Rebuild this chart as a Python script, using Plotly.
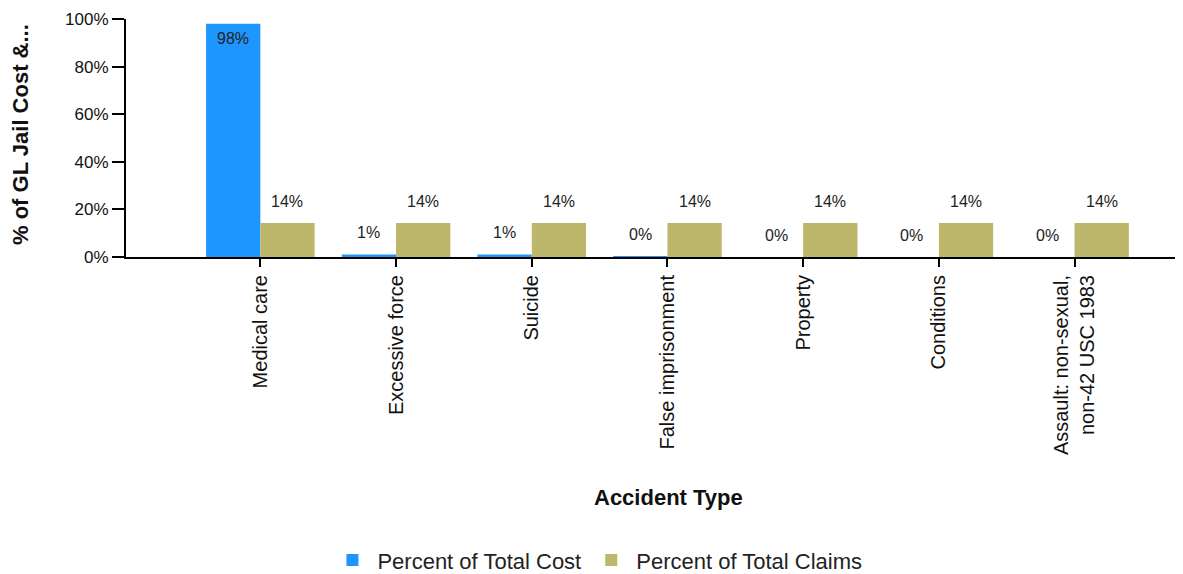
import plotly.graph_objects as go

categories = ["Medical care", "Excessive force", "Suicide", "False imprisonment",
              "Property", "Conditions", "Assault: non-sexual,<br>non-42 USC 1983"]
pct_cost = [98, 1, 1, 0.4, 0, 0, 0]
pct_claims = [14.29, 14.29, 14.29, 14.29, 14.29, 14.29, 14.29]
series_names = ["Percent of Total Cost", "Percent of Total Claims"]
y_ticks = [0, 20, 40, 60, 80, 100]

BLUE = "#1E96FF"
OLIVE = "#BDB76B"
FONT = "Liberation Sans, Arial, sans-serif"

fig = go.Figure()
fig.add_trace(go.Bar(x=categories, y=pct_cost, name=series_names[0],
                     marker=dict(color=BLUE, line=dict(width=0))))
fig.add_trace(go.Bar(x=categories, y=pct_claims, name=series_names[1],
                     marker=dict(color=OLIVE, line=dict(width=0))))

# value labels
plot_w = 1183 - 126 - 8
x_range = [-0.99, 6.74]
px_per_unit = plot_w / (x_range[1] - x_range[0])
bargap = 0.2
half = (1 - bargap) / 2 * px_per_unit / 2

annotations = []
for cat, v in zip(categories, pct_cost):
    if v > 50:
        annotations.append(dict(x=cat, y=v, xref="x", yref="y", text=f"{v:.0f}%",
                                showarrow=False, xshift=-half, yshift=-15,
                                yanchor="middle", font=dict(size=16, color="#222", family=FONT)))
    else:
        annotations.append(dict(x=cat, y=v, xref="x", yref="y", text=f"{v:.0f}%",
                                showarrow=False, xshift=-half, yshift=22,
                                yanchor="middle", font=dict(size=16, color="#222", family=FONT)))
for cat, v in zip(categories, pct_claims):
    annotations.append(dict(x=cat, y=v, xref="x", yref="y", text=f"{v:.0f}%",
                            showarrow=False, xshift=half, yshift=21,
                            yanchor="middle", font=dict(size=16, color="#222", family=FONT)))

annotations.append(dict(text="<b>Accident Type</b>", x=(668 - 126) / plot_w, y=(257 - 497) / 238,
                        xref="paper", yref="paper", showarrow=False, xanchor="center",
                        yanchor="middle", font=dict(size=22, color="#111", family=FONT)))
annotations.append(dict(text="<b>% of GL Jail Cost &...</b>", x=(20 - 126) / plot_w, y=(257 - 135) / 238,
                        xref="paper", yref="paper", showarrow=False, xanchor="center",
                        yanchor="middle", textangle=-90,
                        font=dict(size=22, color="#111", family=FONT)))

fig.update_layout(
    width=1183, height=574,
    margin=dict(l=126, r=8, t=19, b=317),
    paper_bgcolor="white", plot_bgcolor="white",
    barmode="group", bargap=bargap, bargroupgap=0,
    font=dict(family=FONT, color="#111"),
    showlegend=True,
    legend=dict(orientation="h", xref="container", yref="container",
                x=0.505, y=0.024, xanchor="center", yanchor="middle",
                font=dict(size=22, color="#222", family=FONT),
                itemwidth=40, traceorder="normal"),
    annotations=annotations,
    xaxis=dict(range=x_range, showline=True, linecolor="black", linewidth=2,
               ticks="outside", ticklen=8, tickwidth=2, tickcolor="black",
               tickangle=-90, tickfont=dict(size=20, color="#111", family=FONT),
               showgrid=False, zeroline=False, fixedrange=True),
    yaxis=dict(range=[0, 100], tickvals=y_ticks, ticktext=[f"{t}%" for t in y_ticks],
               showline=True, linecolor="black", linewidth=2,
               ticks="outside", ticklen=12, tickwidth=2, tickcolor="black",
               tickfont=dict(size=17, color="#111", family=FONT),
               showgrid=False, zeroline=False, fixedrange=True),
)

fig.write_html("out.html")
